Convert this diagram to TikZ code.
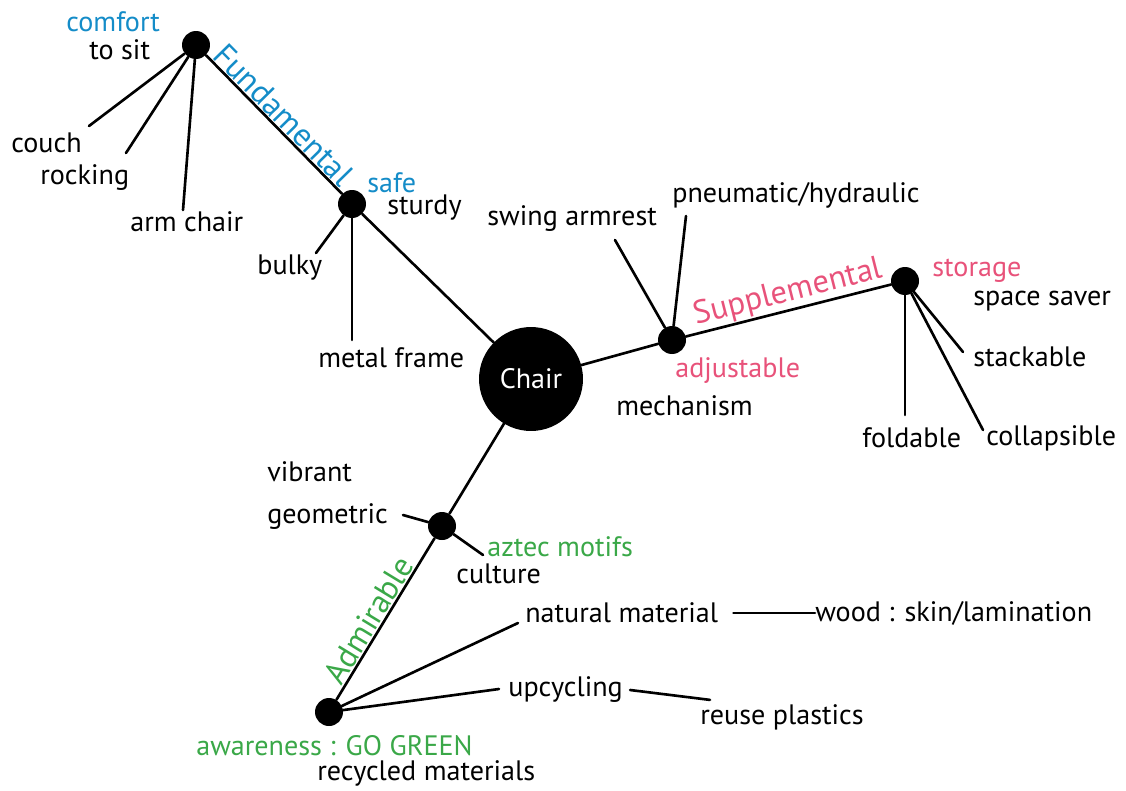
\documentclass[tikz,border=0pt]{standalone}
\usepackage{fontspec}
\setmainfont{PT Sans}
\usepackage{xcolor}
\usetikzlibrary{positioning}
\definecolor{fundblue}{RGB}{20,140,200}
\definecolor{supppink}{RGB}{232,82,122}
\definecolor{admgreen}{RGB}{58,168,72}
\tikzset{
  % Plain word next to a branch
  word/.style={
    inner sep=0pt,
    anchor=west,
    font=\fontsize{16}{18}\selectfont
  },
  % Name of a main branch, written along the line
  topic/.style={
    inner sep=0.5pt,
    sloped,
    above,
    font=\fontsize{18.5}{20}\selectfont
  }
}

\begin{document}
\begin{tikzpicture}[
    x=0.02cm,
    y=-0.02cm,
    hub/.style={
      circle,
      fill=black,
      inner sep=0pt,
      minimum size=2.08cm,
      text=white,
      font=\fontsize{16}{18}\selectfont
    },
    joint/.style={
      circle,
      fill=black,
      inner sep=0pt,
      minimum size=0.56cm
    },
    branch/.style={
      line width=1.5pt,
      line cap=round
    }
  ]
  \useasboundingbox (0,0) rectangle (1126,791);

  \node[hub] (chair) at (531,379) {Chair};
  \node[joint] (fund) at (196,45) {};
  \node[joint] (safe) at (352,204) {};
  \node[joint] (adjust) at (672,340) {};
  \node[joint] (store) at (905,281) {};
  \node[joint] (aztec) at (442,526) {};
  \node[joint] (green) at (329,712) {};

  % main branches
  \draw[branch] (fund) -- node[topic,text=fundblue,pos=0.5] {Fundamental} (safe);
  \draw[branch] (safe) -- (chair);
  \draw[branch] (chair) -- (adjust);
  \draw[branch] (adjust) -- node[topic,text=supppink,pos=0.52] {Supplemental} (store);
  \draw[branch] (chair) -- (aztec);
  \draw[branch] (green) -- node[topic,text=admgreen,pos=0.45] {Admirable} (aztec);

  % Fundamental
  \node[word,text=fundblue] (comfort) at (66,22) {comfort};
  \node[word] (tosit) at (89,50) {to sit};
  \node[word] (couch) at (11,143) {couch};
  \node[word] (rocking) at (40,178) {rocking};
  \node[word] (armchair) at (130,222) {arm chair};
  \coordinate (couchend) at (89,126);
  \coordinate (rockend) at (126,153);
  \coordinate (armend) at (183,210);
  \draw[branch] (fund) -- (couchend);
  \draw[branch] (fund) -- (rockend);
  \draw[branch] (fund) -- (armend);
  \node[word,text=fundblue] (safetxt) at (367,183) {safe};
  \node[word] (sturdy) at (387,208) {sturdy};
  \node[word] (bulky) at (257,268) {bulky};
  \node[word] (metal) at (318,358) {metal frame};
  \coordinate (bulkyend) at (316,253);
  \coordinate (metalend) at (352,340);
  \draw[branch] (safe) -- (bulkyend);
  \draw[branch] (safe) -- (metalend);

  % Supplemental
  \node[word] (swing) at (487,219) {swing armrest};
  \node[word] (pneu) at (672,195) {pneumatic/hydraulic};
  \node[word,text=supppink] (adjtxt) at (675,371) {adjustable};
  \node[word] (mech) at (616,406) {mechanism};
  \coordinate (swingend) at (615,240);
  \coordinate (pneuend) at (686,216);
  \draw[branch] (adjust) -- (swingend);
  \draw[branch] (adjust) -- (pneuend);
  \node[word,text=supppink] (storetxt) at (932,271) {storage};
  \node[word] (saver) at (973,301) {space saver};
  \node[word] (stack) at (973,357) {stackable};
  \node[word] (fold) at (862,438) {foldable};
  \node[word] (collap) at (986,438) {collapsible};
  \coordinate (stackend) at (963,352);
  \coordinate (foldend) at (905,415);
  \coordinate (collapend) at (983,430);
  \draw[branch] (store) -- (stackend);
  \draw[branch] (store) -- (foldend);
  \draw[branch] (store) -- (collapend);

  % Admirable
  \node[word] (vibrant) at (267,472) {vibrant};
  \node[word] (geom) at (267,517) {geometric};
  \node[word,text=admgreen] (motifs) at (487,547) {aztec motifs};
  \node[word] (culture) at (456,574) {culture};
  \coordinate (geomend) at (403,515);
  \coordinate (motifend) at (483,555);
  \draw[branch] (aztec) -- (geomend);
  \draw[branch] (aztec) -- (motifend);
  \node[word] (natmat) at (525,613) {natural material};
  \node[word] (wood) at (815,613) {wood : skin/lamination};
  \node[word] (upcyc) at (508,690) {upcycling};
  \node[word] (reuse) at (700,717) {reuse plastics};
  \node[word,text=admgreen] (gogreen) at (196,746) {awareness : GO GREEN};
  \node[word] (recyc) at (317,773) {recycled materials};
  \coordinate (natend) at (518,623);
  \coordinate (upend) at (499,689);
  \coordinate[xshift=0.14cm] (upout) at (upcyc.east);
  \coordinate[xshift=0.2cm,yshift=0.08cm] (reusein) at (reuse.north west);
  \draw[branch] (green) -- (natend);
  \draw[branch] (green) -- (upend);
  \draw[branch,shorten <=0.3cm] (natmat) -- (wood);
  \draw[branch] (upout) -- (reusein);
\end{tikzpicture}
\end{document}
